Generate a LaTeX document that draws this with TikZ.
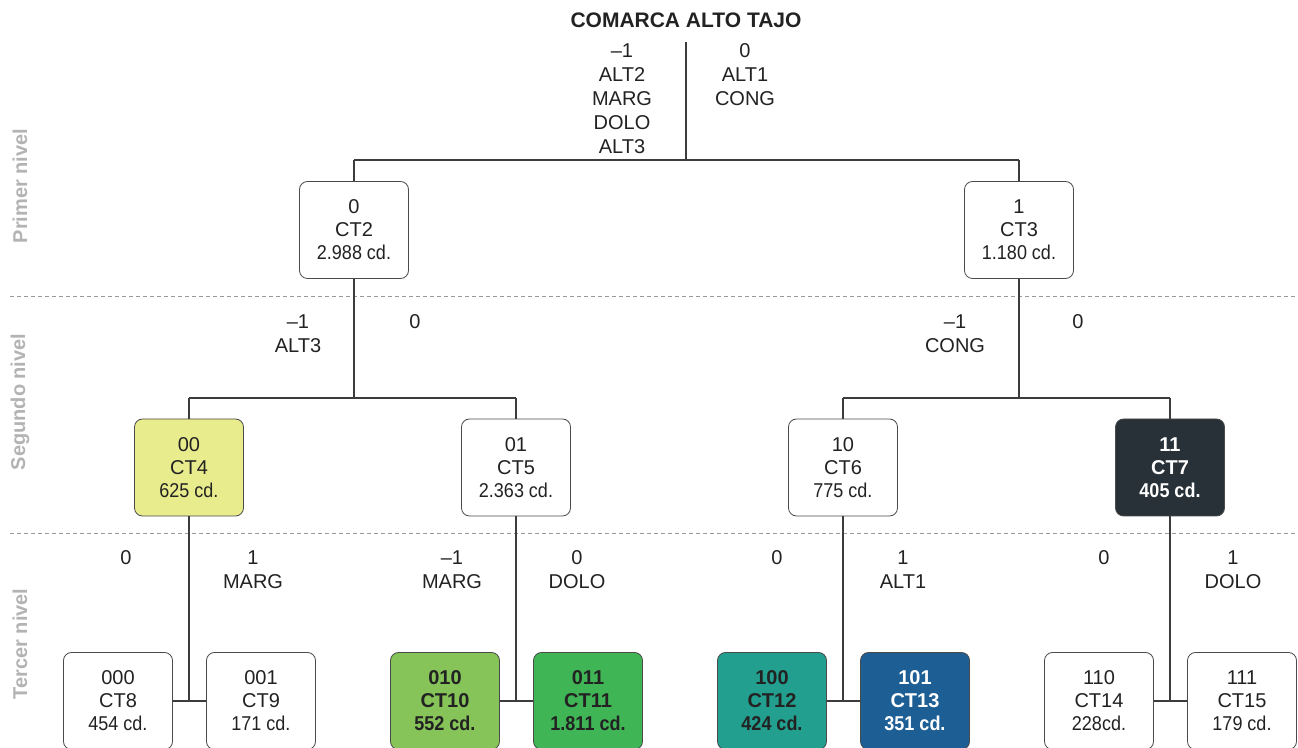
\documentclass[tikz,border=0pt]{standalone}
\usepackage{fontspec}
\setmainfont{Liberation Sans}
\newfontfamily\narrowfont{Liberation Sans}[FakeStretch=0.9]
\usepackage{tikz}
\usetikzlibrary{positioning}
\usepackage{xcolor}
\definecolor{textdark}{HTML}{222222}
\definecolor{linegray}{HTML}{3C3C3C}
\definecolor{boxgray}{HTML}{4A4A4A}
\definecolor{dashgray}{HTML}{9A9A9A}
\definecolor{sidegray}{HTML}{B3B3B3}
\definecolor{fillyellow}{HTML}{E8EC8C}
\definecolor{filldark}{HTML}{283138}
\definecolor{filllime}{HTML}{86C45A}
\definecolor{fillgreen}{HTML}{40B556}
\definecolor{fillteal}{HTML}{229F8E}
\definecolor{fillblue}{HTML}{1D5F95}

\begin{document}
\begin{tikzpicture}[x=0.5pt, y=-0.5pt,
  every node/.style={text=textdark},
  tipobox/.style={
    draw=boxgray, rounded corners=4pt,
    fill=white,
    minimum width=54.5pt, minimum height=48.5pt,
    inner sep=0pt, align=center,
    font=\fontsize{10}{11.5}\selectfont
  },
  colorbox/.style={
    tipobox, fill=#1,
    font=\fontsize{10}{11.5}\selectfont\bfseries
  },
  etiq/.style={
    inner sep=0pt, align=center,
    font=\fontsize{10}{12}\selectfont
  },
  lado/.style={
    rotate=90, inner sep=0pt, text=sidegray,
    font=\fontsize{10}{12}\selectfont\bfseries
  },
  linea/.style={draw=linegray, line width=0.6pt},
  separador/.style={draw=dashgray, line width=0.5pt, dash pattern=on 2pt off 1.5pt}
]
  \useasboundingbox (0,0) rectangle (1298,748);

  % Niveles
  \node[lado] (nivel1) at (20,186) {Primer nivel};
  \node[lado] (nivel2) at (20,402) {Segundo nivel};
  \node[lado] (nivel3) at (20,644) {Tercer nivel};
  \draw[separador] (10,297) -- (1298,297);
  \draw[separador] (10,534) -- (1298,534);

  % Comarca
  \node[font=\fontsize{10.5}{12}\selectfont\bfseries] (titulo) at (686,20) {COMARCA ALTO TAJO};
  \coordinate (raiz) at (686,42);
  \coordinate (corte1) at (686,160);
  \node[etiq] (r1izq) at (622,98.5) {\textendash1\\ALT2\\MARG\\DOLO\\ALT3};
  \node[etiq] (r1der) at (745,75) {0\\ALT1\\CONG};

  % Primer nivel
  \node[tipobox] (ct2) at (354,230) {0\\CT2\\{\narrowfont 2.988 cd.}};
  \node[tipobox] (ct3) at (1019,230) {1\\CT3\\{\narrowfont 1.180 cd.}};

  \draw[linea] (raiz) -- (corte1);
  \draw[linea] (ct2 |- corte1) -- (ct3 |- corte1);
  \draw[linea] (ct2 |- corte1) -- (ct2.north);
  \draw[linea] (ct3 |- corte1) -- (ct3.north);

  % Segundo nivel
  \coordinate (corte2) at (0,398);
  \node[etiq] (r2a) at (298,333.5) {\textendash1\\ALT3};
  \node[etiq] (r2b) at (415,322) {0};
  \node[etiq] (r2c) at (955,333.5) {\textendash1\\CONG};
  \node[etiq] (r2d) at (1078,322) {0};

  \node[colorbox=fillyellow, font=\fontsize{10}{11.5}\selectfont] (ct4) at (189,467.5) {00\\CT4\\{\narrowfont 625 cd.}};
  \node[tipobox] (ct5) at (516,467.5) {01\\CT5\\{\narrowfont 2.363 cd.}};
  \node[tipobox] (ct6) at (843,467.5) {10\\CT6\\{\narrowfont 775 cd.}};
  \node[colorbox=filldark, text=white] (ct7) at (1170,467.5) {11\\CT7\\{\narrowfont 405 cd.}};

  \draw[linea] (ct2.south) -- (ct2 |- corte2);
  \draw[linea] (ct4 |- corte2) -- (ct5 |- corte2);
  \draw[linea] (ct4 |- corte2) -- (ct4.north);
  \draw[linea] (ct5 |- corte2) -- (ct5.north);
  \draw[linea] (ct3.south) -- (ct3 |- corte2);
  \draw[linea] (ct6 |- corte2) -- (ct7 |- corte2);
  \draw[linea] (ct6 |- corte2) -- (ct6.north);
  \draw[linea] (ct7 |- corte2) -- (ct7.north);

  % Tercer nivel
  \node[etiq] (r3a) at (126,558) {0};
  \node[etiq] (r3b) at (253,569.5) {1\\MARG};
  \node[etiq] (r3c) at (452,569.5) {\textendash1\\MARG};
  \node[etiq] (r3d) at (577,569.5) {0\\DOLO};
  \node[etiq] (r3e) at (777,558) {0};
  \node[etiq] (r3f) at (903,569.5) {1\\ALT1};
  \node[etiq] (r3g) at (1104,558) {0};
  \node[etiq] (r3h) at (1233,569.5) {1\\DOLO};

  \node[tipobox] (ct8) at (118,701) {000\\CT8\\{\narrowfont 454 cd.}};
  \node[tipobox] (ct9) at (261,701) {001\\CT9\\{\narrowfont 171 cd.}};
  \node[colorbox=filllime] (ct10) at (445,701) {010\\CT10\\{\narrowfont 552 cd.}};
  \node[colorbox=fillgreen] (ct11) at (588,701) {011\\CT11\\{\narrowfont 1.811 cd.}};
  \node[colorbox=fillteal] (ct12) at (772,701) {100\\CT12\\{\narrowfont 424 cd.}};
  \node[colorbox=fillblue, text=white] (ct13) at (915,701) {101\\CT13\\{\narrowfont 351 cd.}};
  \node[tipobox] (ct14) at (1099,701) {110\\CT14\\{\narrowfont 228cd.}};
  \node[tipobox] (ct15) at (1242,701) {111\\CT15\\{\narrowfont 179 cd.}};

  \draw[linea] (ct4.south) -- (ct4 |- ct8.east);
  \draw[linea] (ct8.east) -- (ct9.west);
  \draw[linea] (ct5.south) -- (ct5 |- ct10.east);
  \draw[linea] (ct10.east) -- (ct11.west);
  \draw[linea] (ct6.south) -- (ct6 |- ct12.east);
  \draw[linea] (ct12.east) -- (ct13.west);
  \draw[linea] (ct7.south) -- (ct7 |- ct14.east);
  \draw[linea] (ct14.east) -- (ct15.west);
\end{tikzpicture}
\end{document}
